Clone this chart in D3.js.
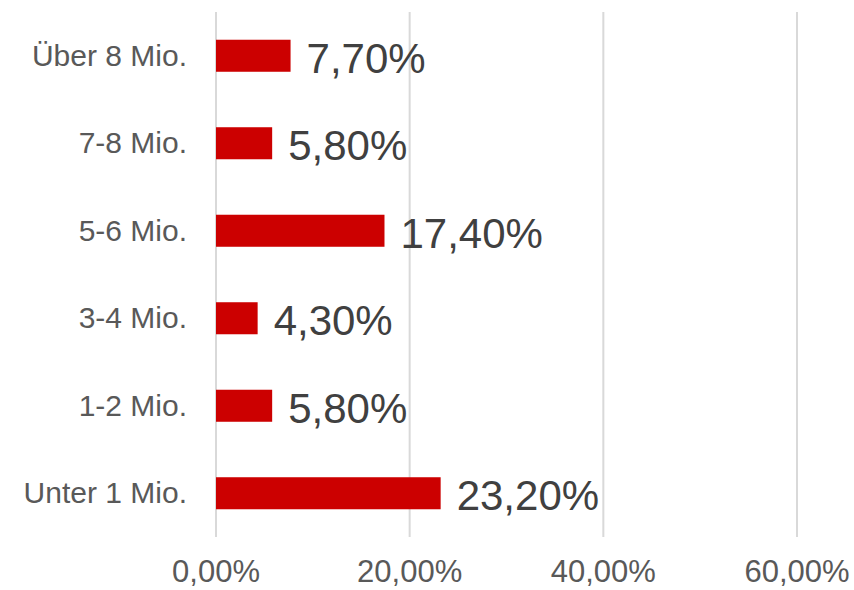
<!DOCTYPE html>
<html>
<head>
<meta charset="utf-8">
<script src="https://cdn.jsdelivr.net/npm/d3@7"></script>
<style>
  body { margin: 0; background: #fff; }
  svg { display: block; font-family: "Liberation Sans", Arial, sans-serif; }
</style>
</head>
<body>
<div id="chart"></div>
<script>
// Daten
const categories = ["Über 8 Mio.", "7-8 Mio.", "5-6 Mio.", "3-4 Mio.", "1-2 Mio.", "Unter 1 Mio."];
const values = [7.7, 5.8, 17.4, 4.3, 5.8, 23.2];
const xTicks = [0, 20, 40, 60];

const width = 854;
const height = 590;

const svg = d3.select("#chart")
    .append("svg")
    .attr("width", width)
    .attr("height", height);

const x = d3.scaleLinear().domain([0, 60]).range([216, 797]);
const y = d3.scaleBand()
    .domain(categories)
    .range([12, 537])
    .paddingInner(0.634)
    .paddingOuter(0.317);

const fmt = v => v.toFixed(2).replace(".", ",") + "%";

// Gitternetzlinien
svg.selectAll(".grid")
    .data(xTicks)
    .enter()
    .append("line")
    .attr("class", "grid")
    .attr("x1", d => x(d))
    .attr("x2", d => x(d))
    .attr("y1", 12)
    .attr("y2", 537)
    .attr("stroke", "#d9d9d9")
    .attr("stroke-width", 2);

// Balken
svg.selectAll(".bar")
    .data(values)
    .enter()
    .append("rect")
    .attr("class", "bar")
    .attr("x", x(0))
    .attr("y", (d, i) => y(categories[i]))
    .attr("width", d => x(d) - x(0))
    .attr("height", y.bandwidth())
    .attr("fill", "#cc0000");

// Werte
svg.selectAll(".val")
    .data(values)
    .enter()
    .append("text")
    .attr("class", "val")
    .attr("x", d => x(d) + 16)
    .attr("y", (d, i) => y(categories[i]) + y.bandwidth() / 2 + 17)
    .attr("fill", "#404040")
    .style("font-size", "42px")
    .text(d => fmt(d));

// Kategorien
svg.selectAll(".cat")
    .data(categories)
    .enter()
    .append("text")
    .attr("class", "cat")
    .attr("x", 187)
    .attr("y", d => y(d) + y.bandwidth() / 2 + 10)
    .attr("text-anchor", "end")
    .attr("fill", "#595959")
    .style("font-size", "30px")
    .text(d => d);

// X-Achse
svg.selectAll(".tick")
    .data(xTicks)
    .enter()
    .append("text")
    .attr("class", "tick")
    .attr("x", d => x(d))
    .attr("y", 582)
    .attr("text-anchor", "middle")
    .attr("fill", "#595959")
    .style("font-size", "31px")
    .text(d => d.toFixed(2).replace(".", ",") + "%");
</script>
</body>
</html>
